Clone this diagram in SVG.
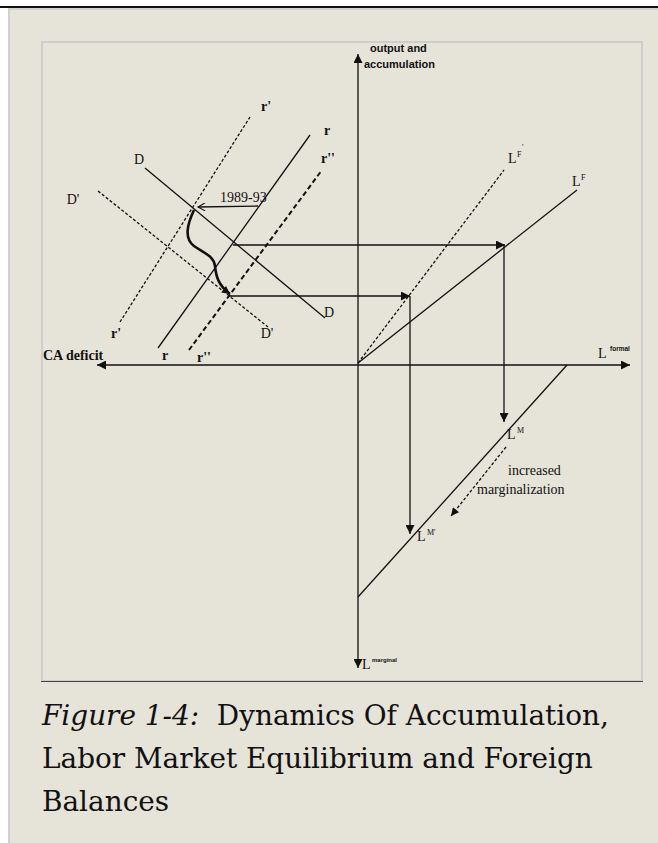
<svg xmlns="http://www.w3.org/2000/svg" width="658" height="843" viewBox="0 0 658 843">
<defs>
<style>
.ln{stroke:#111;stroke-width:1.3;fill:none}
.dl{stroke:#111;stroke-width:1.3;fill:none;stroke-dasharray:3 2}
.dh{stroke:#111;stroke-width:2;fill:none;stroke-dasharray:5 3}
.t{font-family:"Liberation Serif","Times New Roman",serif;font-size:14px;fill:#111}
.tb{font-family:"Liberation Serif","Times New Roman",serif;font-size:14px;font-weight:bold;fill:#111}
.sup{font-family:"Liberation Serif","Times New Roman",serif;font-size:8px;fill:#111}
.ss{font-family:"Liberation Sans",Arial,sans-serif;font-weight:bold;fill:#111}
.cap{font-family:"DejaVu Serif",serif;font-size:27.9px;fill:#111}
</style>
<marker id="ah" viewBox="0 0 10 10" refX="10" refY="5" markerWidth="11" markerHeight="9" markerUnits="userSpaceOnUse" orient="auto-start-reverse"><path d="M0,0 L10,5 L0,10 z" fill="#111"/></marker>
<marker id="ahs" viewBox="0 0 10 10" refX="10" refY="5" markerWidth="9" markerHeight="8" markerUnits="userSpaceOnUse" orient="auto"><path d="M0,0 L10,5 L0,10 z" fill="#111"/></marker>
<marker id="ao" viewBox="0 0 10 10" refX="9" refY="5" markerWidth="10" markerHeight="8" markerUnits="userSpaceOnUse" orient="auto"><path d="M0,0 L9,5 L0,10" fill="none" stroke="#111" stroke-width="1.4"/></marker>
</defs>
<rect x="0" y="0" width="658" height="843" fill="#ffffff"/>
<rect x="9" y="9" width="652" height="840" fill="#e6e3d9" stroke="#d0d0d0" stroke-width="2"/>
<rect x="0" y="6" width="658" height="2" fill="#111"/>
<rect x="42" y="42" width="600" height="639" fill="#e6e3d9" stroke="#cdcdcd" stroke-width="2"/>
<line x1="41" y1="681.5" x2="643" y2="681.5" stroke="#444" stroke-width="1"/>

<g id="axes">
<path class="ln" d="M358,54 L358,668" marker-start="url(#ah)" marker-end="url(#ah)"/>
<path class="ln" d="M97,365 L630,365" marker-start="url(#ah)" marker-end="url(#ah)"/>
<text class="ss" x="370" y="52" font-size="11">output and</text>
<text class="ss" x="364" y="68" font-size="11">accumulation</text>
<text class="tb" x="43" y="360">CA deficit</text>
<text class="t" x="598" y="358">L</text><text class="ss" x="610" y="351" font-size="6.5">formal</text>
<text class="t" x="362" y="669">L</text><text class="ss" x="372" y="662" font-size="6">marginal</text>
</g>

<g id="D">
<path class="ln" d="M145,168 L325,318"/>
<text class="t" x="139" y="164" text-anchor="middle">D</text>
<text class="t" x="329" y="317" text-anchor="middle">D</text>
</g>
<g id="D-prime">
<path class="dl" d="M98,191 L268,327"/>
<text class="t" x="73" y="204" text-anchor="middle">D'</text>
<text class="t" x="267" y="338" text-anchor="middle">D'</text>
</g>
<g id="r">
<path class="ln" d="M158,348 L310,135"/>
<text class="tb" x="327" y="135" text-anchor="middle">r</text>
<text class="tb" x="165" y="360" text-anchor="middle">r</text>
</g>
<g id="r-prime">
<path class="dl" d="M120,322 L250,117"/>
<text class="tb" x="266" y="111" text-anchor="middle">r'</text>
<text class="tb" x="116" y="338" text-anchor="middle">r'</text>
</g>
<g id="r-dprime">
<path class="dh" d="M189,350 L322,170"/>
<text class="tb" x="328" y="163" text-anchor="middle">r''</text>
<text class="tb" x="204" y="362" text-anchor="middle">r''</text>
</g>
<g id="LF">
<path class="ln" d="M358,363 L577,190"/>
<text class="t" x="572" y="186">L</text><text class="sup" x="581" y="180">F</text>
</g>
<g id="LF-prime">
<path class="dl" d="M358,363 L504,170"/>
<text class="t" x="508" y="163">L</text><text class="sup" x="517" y="157">F</text><text class="sup" x="522" y="150">'</text>
</g>
<g id="LM">
<path class="ln" d="M358,597 L567,365"/>
<text class="t" x="507" y="439">L</text><text class="sup" x="517" y="433">M</text>
<text class="t" x="417" y="541">L</text><text class="sup" x="427" y="535">M'</text>
<text class="t" x="508" y="475" font-size="14.5">increased</text>
<text class="t" x="477" y="494" font-size="14.5">marginalization</text>
</g>
<g id="period">
<text class="t" x="220" y="202" font-size="11.5">1989-93</text>
</g>

<g id="connectors">
<path class="ln" d="M233,245 L505,245" marker-end="url(#ah)"/>
<path class="ln" d="M504,245 L504,422" marker-end="url(#ah)"/>
<path class="ln" d="M229,296 L410,296" marker-end="url(#ah)"/>
<path class="ln" d="M410,296 L410,534" marker-end="url(#ah)"/>
<path class="ln" d="M258,206 L198,207" marker-end="url(#ao)"/>
<path d="M194,210 C187,225 184,238 194,246 C204,253 214,256 215,266 C216,276 218,285 230,294" fill="none" stroke="#111" stroke-width="2.6" marker-end="url(#ahs)"/>
<path class="dl" d="M506,447 L451,516" marker-end="url(#ahs)"/>
</g>

<g id="caption">
<text class="cap" x="42" y="725" xml:space="preserve"><tspan font-style="italic">Figure 1-4:</tspan>  Dynamics Of Accumulation,</text>
<text class="cap" x="42" y="768">Labor Market Equilibrium and Foreign</text>
<text class="cap" x="42" y="811">Balances</text>
</g>
</svg>
